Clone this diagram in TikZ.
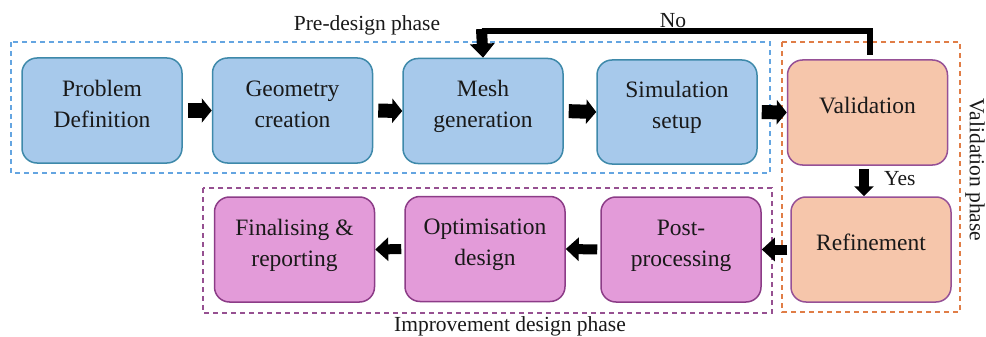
\documentclass[tikz,border=0pt]{standalone}
\usepackage{fontspec}
\setmainfont{Liberation Serif}
\usetikzlibrary{arrows.meta}
\definecolor{bfill}{RGB}{167,201,235}
\definecolor{bdraw}{RGB}{62,137,170}
\definecolor{ofill}{RGB}{246,198,171}
\definecolor{odraw}{RGB}{150,80,150}
\definecolor{pfill}{RGB}{227,155,217}
\definecolor{pdraw}{RGB}{140,60,135}
\definecolor{dblue}{RGB}{100,165,225}
\definecolor{dorange}{RGB}{224,125,70}
\definecolor{dpurple}{RGB}{150,80,145}
\definecolor{txt}{RGB}{25,25,25}
\newcommand{\boxtxt}[1]{\raisebox{5pt}[\height][\depth]{\begin{tabular}{@{}c@{}}#1\end{tabular}}}
\tikzset{
  box/.style={rounded corners=15pt, line width=1.5pt, minimum width=160pt, minimum height=105pt,
    text=txt, font=\fontsize{23.5}{31}\selectfont, inner sep=0pt},
  bluebox/.style={box, fill=bfill, draw=bdraw},
  orangebox/.style={box, fill=ofill, draw=odraw},
  pinkbox/.style={box, fill=pfill, draw=pdraw},
  phase/.style={line width=1.3pt, dash pattern=on 5pt off 4pt},
  lab/.style={text=txt, font=\fontsize{21.5}{26}\selectfont, inner sep=0pt},
  bigarrow/.style={line width=14pt, -{Triangle[length=10pt,width=24pt]}, shorten <=5pt},
  lowarrow/.style={line width=10pt, -{Triangle[length=13pt,width=23pt]}, shorten <=3pt},
}
\begin{document}
\begin{tikzpicture}[x=1pt,y=-1pt]
\useasboundingbox (0,0) rectangle (986,337);
% phase frames
\draw[phase, draw=dblue] (11,42) rectangle (770,173);
\draw[phase, draw=dorange] (782,42) rectangle (960,312);
\draw[phase, draw=dpurple] (203,188) rectangle (772,313);
% boxes
\node[bluebox] (p1) at (102,110.5) {\boxtxt{Problem\\Definition}};
\node[bluebox] (p2) at (292.5,110.5) {\boxtxt{Geometry\\creation}};
\node[bluebox] (p3) at (483,111) {\boxtxt{Mesh\\generation}};
\node[bluebox, minimum height=104pt] (p4) at (677,112) {\boxtxt{Simulation\\setup}};
\node[orangebox] (v) at (867.5,112.5) {\boxtxt{Validation}};
\node[orangebox] (r) at (871,249.5) {\boxtxt{Refinement}};
\node[pinkbox] (pp) at (681,249.5) {\boxtxt{Post-\\processing}};
\node[pinkbox] (o) at (485,249) {\boxtxt{Optimisation\\design}};
\node[pinkbox] (f) at (294.5,249.5) {\boxtxt{Finalising \&\\reporting}};
% labels
\node[lab] (l1) at (367,25) {Pre-design phase};
\node[lab] (l2) at (673,21) {No};
\node[lab, anchor=west] (l3) at (884,179) {Yes};
\node[lab, rotate=-90] (l4) at (975,170) {Validation phase};
\node[lab] (l5) at (510,326) {Improvement design phase};
% arrows
\draw[bigarrow] (p1.east) -- (p2.west);
\draw[bigarrow] (p2.east) -- (p3.west);
\draw[bigarrow] (p3.east) -- (p4.west);
\draw[bigarrow, shorten <=4pt] (p4.east) -- (v.west);
\draw[line width=10pt, -{Triangle[length=10pt,width=19pt]}, shorten <=3pt] (v.south -| 864,0) -- (r.north -| 864,0);
\draw[lowarrow] (r.west) -- (pp.east);
\draw[lowarrow] (pp.west) -- (o.east);
\draw[lowarrow] (o.west) -- (f.east);
% No loop
\coordinate (nA) at (870,55);
\coordinate (nB) at (870,31.5);
\coordinate (nC) at (481.5,31.5);
\draw[line width=6pt, miter limit=10] (nA) -- (nB) -- (nC);
\draw[line width=11pt, -{Triangle[length=14pt,width=24pt]}] (481.5,29) -- (p3.north);
\end{tikzpicture}
\end{document}
